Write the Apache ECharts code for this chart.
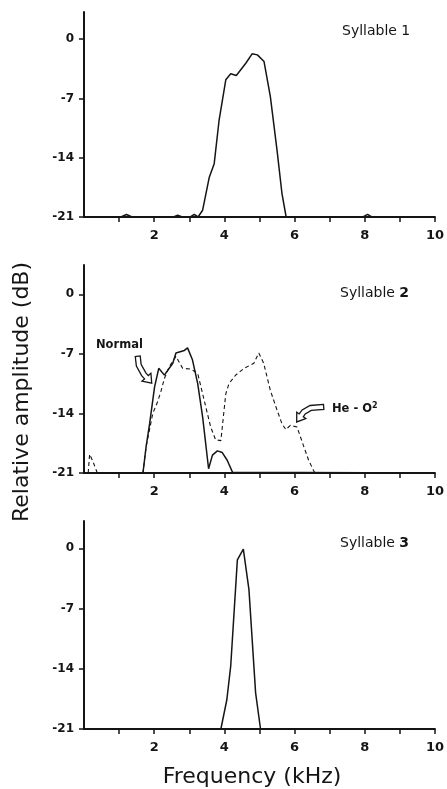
<!DOCTYPE html>
<html><head><meta charset="utf-8">
<script src="https://cdn.jsdelivr.net/npm/echarts@6/dist/echarts.min.js"></script>
<style>html,body{margin:0;padding:0;background:#fff}#c{width:447px;height:789px}</style>
</head><body><div id="c"></div>
<script>
// ---- data ----
const xTickValues = [1,2,3,4,5,6,7,8,9,10];
const xLabelValues = [2,4,6,8,10];
const yTickValues = [0,-7,-14,-21];
const panelTitles = ['1','2','3'];

const syllable1 = [[0,-21],[1.05,-21],[1.21,-20.7],[1.37,-21],[2.55,-21],[2.67,-20.8],[2.8,-21],[3.03,-21],[3.14,-20.7],[3.25,-21],
  [3.38,-20.2],[3.57,-16.3],[3.71,-14.7],[3.85,-9.55],[4.04,-4.8],[4.18,-4.1],[4.34,-4.3],[4.61,-2.85],[4.79,-1.74],[4.94,-1.86],
  [5.13,-2.65],[5.31,-6.8],[5.5,-13.1],[5.64,-18.2],[5.76,-21],[7.95,-21],[8.08,-20.7],[8.2,-21],[10,-21]];

const syllable2Normal = [[0,-21],[1.68,-21],[1.77,-17.9],[1.87,-15.2],[2.01,-10.9],[2.13,-8.7],[2.29,-9.5],[2.53,-8.1],[2.62,-6.9],
  [2.86,-6.6],[2.95,-6.3],[3.09,-7.7],[3.24,-10.5],[3.38,-14.4],[3.55,-20.5],[3.66,-18.9],[3.8,-18.4],[3.94,-18.6],[4.08,-19.5],
  [4.23,-20.9],[4.28,-21],[10,-21]];

const syllable2HeO2 = [[0.12,-21],[0.16,-18.8],[0.25,-19.6],[0.38,-21],[1.68,-21],[1.77,-17.9],[1.96,-14.0],[2.1,-12.6],[2.2,-11.3],
  [2.29,-9.9],[2.43,-8.5],[2.62,-7.3],[2.81,-8.7],[3.05,-8.8],[3.24,-9.3],[3.38,-11.7],[3.61,-15.6],[3.75,-17.1],[3.9,-17.2],
  [4.04,-11.7],[4.13,-10.5],[4.32,-9.5],[4.56,-8.7],[4.75,-8.3],[4.84,-8.1],[4.98,-6.9],[5.12,-8.1],[5.31,-11.3],[5.5,-13.6],
  [5.64,-15.2],[5.75,-15.9],[5.88,-15.4],[6.07,-15.6],[6.23,-17.5],[6.4,-19.5],[6.54,-20.7],[6.58,-21]];

const syllable3 = [[0,-21],[3.9,-21],[4.07,-17.6],[4.18,-13.7],[4.37,-1.35],[4.54,-0.1],[4.7,-4.8],[4.89,-16.8],[5.03,-21],[10,-21]];

// ---- layout ----
const grids = [
  {left:84, right:10, top:12, height:205, max:3.2},
  {left:84, right:10, top:265, height:208, max:3.44},
  {left:84, right:10, top:521, height:208, max:3.17}
];
const INK = '#151515';
const FONT = 'DejaVu Sans';

const chart = echarts.init(document.getElementById('c'), null, {renderer:'canvas'});

function xAxis(i){
  return {type:'value', gridIndex:i, min:0, max:10,
    axisLine:{show:true, onZero:false, lineStyle:{color:INK, width:2}},
    axisTick:{show:true, inside:false, length:5, lineStyle:{color:INK, width:1.5}, customValues:xTickValues},
    axisLabel:{show:true, margin:12, color:INK, fontFamily:FONT, fontSize:13, fontWeight:'bold', customValues:xLabelValues},
    splitLine:{show:false}};
}
function yAxis(i){
  return {type:'value', gridIndex:i, min:-21, max:grids[i].max,
    axisLine:{show:true, lineStyle:{color:INK, width:2}},
    axisTick:{show:true, length:5, lineStyle:{color:INK, width:1.5}, customValues:yTickValues},
    axisLabel:{show:true, margin:10, color:INK, fontFamily:FONT, fontSize:12, fontWeight:'bold', customValues:yTickValues},
    splitLine:{show:false}};
}
function lineSeries(data, i, dashed){
  return {type:'line', xAxisIndex:i, yAxisIndex:i, data:data, showSymbol:false, smooth:false,
    lineStyle:{color:INK, width:dashed?1.1:1.5, type:dashed?[4,3]:'solid'}, animation:false, z:3};
}

chart.setOption({
  animation:false,
  backgroundColor:'#fff',
  grid: grids.map(g=>({left:g.left, right:g.right, top:g.top, height:g.height})),
  xAxis:[xAxis(0),xAxis(1),xAxis(2)],
  yAxis:[yAxis(0),yAxis(1),yAxis(2)],
  series:[
    lineSeries(syllable1,0,false),
    lineSeries(syllable2HeO2,1,true),
    lineSeries(syllable2Normal,1,false),
    lineSeries(syllable3,2,false)
  ]
});

function arrowPoly(cx, cy, path, w, hw, hl){
  const P = path.map(p=>[cx+p[0], cy+p[1]]);
  const n = P.length, tip = P[n-1], prev = P[n-2];
  let dx = tip[0]-prev[0], dy = tip[1]-prev[1]; const L = Math.hypot(dx,dy); dx/=L; dy/=L;
  const base = [tip[0]-dx*hl, tip[1]-dy*hl];
  const body = P.slice(0,n-1).concat([base]);
  const left=[], right=[];
  for (let i=0;i<body.length;i++){
    const a = body[Math.max(0,i-1)], b = body[Math.min(body.length-1,i+1)];
    let tx=b[0]-a[0], ty=b[1]-a[1]; const l=Math.hypot(tx,ty)||1; tx/=l; ty/=l;
    const nx=-ty, ny=tx;
    left.push([body[i][0]+nx*w/2, body[i][1]+ny*w/2]);
    right.push([body[i][0]-nx*w/2, body[i][1]-ny*w/2]);
  }
  const nx=-dy, ny=dx;
  return left.concat([[base[0]+nx*hw/2, base[1]+ny*hw/2], tip, [base[0]-nx*hw/2, base[1]-ny*hw/2]], right.reverse());
}

const tipNormal = chart.convertToPixel({gridIndex:1}, [1.93,-10.45]);
const tipHe = chart.convertToPixel({gridIndex:1}, [6.06,-15.0]);

const titleStyle = (i)=>({
  text:'Syllable {b|' + panelTitles[i] + '}',
  fontFamily:FONT, fontSize:14, fill:INK,
  rich:{b:{fontFamily:FONT, fontSize:14, fontWeight: i===0?'normal':'bold', fill:INK}}
});

chart.setOption({
  graphic:[
    {type:'text', left:342, top:24, style:titleStyle(0)},
    {type:'text', left:340, top:286, style:titleStyle(1)},
    {type:'text', left:340, top:536, style:titleStyle(2)},
    {type:'text', x:22, y:392, rotation:Math.PI/2, style:{text:'Relative amplitude (dB)', fontFamily:FONT, fontSize:22, fill:INK, align:'center', verticalAlign:'middle'}},
    {type:'text', x:252, y:777, style:{text:'Frequency (kHz)', fontFamily:FONT, fontSize:22, fill:INK, align:'center', verticalAlign:'middle'}},
    {type:'text', x:96, y:345, style:{text:'Normal', fontFamily:FONT, fontSize:11.5, fontWeight:'bold', fill:INK, align:'left', verticalAlign:'middle'}},
    {type:'text', x:332, y:409, style:{text:'He - O{s|2}', fontFamily:FONT, fontSize:11.5, fontWeight:'bold', fill:INK, align:'left', verticalAlign:'middle',
      rich:{s:{fontFamily:FONT, fontSize:8, fontWeight:'bold', fill:INK, verticalAlign:'top', padding:[0,0,6,0]}}}},
    {type:'polygon', shape:{points:arrowPoly(tipNormal[0], tipNormal[1], [[-14,-27],[-13,-18],[-8,-9],[0,0]], 5, 12, 8)},
      style:{fill:'#fff', stroke:INK, lineWidth:1.3}, z:10},
    {type:'polygon', shape:{points:arrowPoly(tipHe[0], tipHe[1], [[27,-15],[14,-14],[7,-10],[0,0]], 5, 11, 8)},
      style:{fill:'#fff', stroke:INK, lineWidth:1.3}, z:10}
  ]
});
</script>
</body></html>
